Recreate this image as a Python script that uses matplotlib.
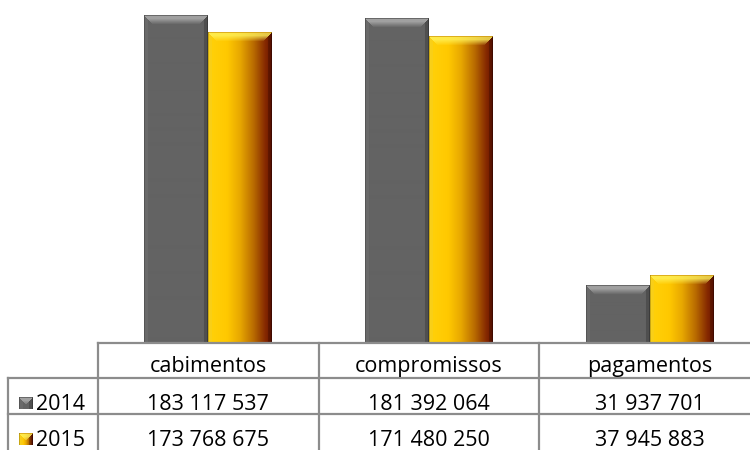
import matplotlib
matplotlib.use("Agg")
import matplotlib.pyplot as plt
import numpy as np
from matplotlib.colors import to_rgb

categorias = ["cabimentos", "compromissos", "pagamentos"]
anos = ["2014", "2015"]
v2014 = [183117537, 181392064, 31937701]
v2015 = [173768675, 171480250, 37945883]

W, H = 750, 450
fig = plt.figure(figsize=(W / 100, H / 100), dpi=100)
fig.patch.set_facecolor("white")

# plot area: left edge at 98px, bottom at 343px, runs off the right edge
left_px, bottom_px, top_px, right_px = 98, 343, 0, 760
ax = fig.add_axes([left_px / W, (H - bottom_px) / H,
                   (right_px - left_px) / W, (bottom_px - top_px) / H])
ax.set_xlim(-0.5, 2.5)
ax.set_ylim(0, 192e6)
ax.axis("off")

x = np.arange(len(categorias))
bw = 0.29
bars14 = ax.bar(x - bw / 2, v2014, bw, color="none")
bars15 = ax.bar(x + bw / 2, v2015, bw, color="none")


def gray_body(nx):
    c = np.array(to_rgb("#636363"))
    return np.tile(c, (nx, 1))


def gold_body(nx):
    stops = [0.0, 0.3, 0.5, 0.72, 0.9, 1.0]
    cols = ["#ffd20a", "#ffc800", "#e8a800", "#b86a00", "#862a00", "#6a1200"]
    cols = np.array([to_rgb(c) for c in cols])
    t = np.linspace(0, 1, nx)
    return np.stack([np.interp(t, stops, cols[:, k]) for k in range(3)], axis=1)


def bevel_image(body, h, top_light, outline):
    w = body.shape[0]
    img = np.tile(body[None, :, :], (h, 1, 1)).copy()
    d = 9
    ii, jj = np.mgrid[0:h, 0:w]
    dist_side = np.minimum(jj, w - 1 - jj)
    top = (ii < d) & (ii <= dist_side)
    # bright band just under the rim, fading into the body
    a = np.where(ii <= 3, 0.8, 0.8 * np.clip((d - ii) / (d - 3), 0, 1))[..., None]
    tl = np.array(top_light)
    img = np.where(top[..., None], img * (1 - a) + tl * a, img)
    # thin dark rim along the top edge
    img[0, :, :] = img[0, :, :] * 0.4 + np.array(outline) * 0.6
    # side bevels
    lz = (jj < 4) & (jj < ii)
    img = np.where(lz[..., None], img * 0.92 + 0.06, img)
    rz = (w - 1 - jj < 4) & (w - 1 - jj < ii)
    img = np.where(rz[..., None], img * 0.8, img)
    img[:, 0, :] *= 0.8
    img[:, -1, :] *= 0.75
    return np.clip(img, 0, 1)


fig.canvas.draw()
for bars, kind in [(bars14, "gray"), (bars15, "gold")]:
    for b in bars:
        x0, y0 = b.get_x(), 0
        x1, y1 = x0 + b.get_width(), b.get_height()
        p0 = ax.transData.transform((x0, y0))
        p1 = ax.transData.transform((x1, y1))
        nx = max(int(round(p1[0] - p0[0])), 2)
        ny = max(int(round(p1[1] - p0[1])), 2)
        if kind == "gray":
            img = bevel_image(gray_body(nx), ny, to_rgb("#b0b0b0"), to_rgb("#454545"))
        else:
            img = bevel_image(gold_body(nx), ny, to_rgb("#fff25a"), to_rgb("#c88a00"))
        ax.imshow(img, extent=(x0, x1, y0, y1), aspect="auto",
                  interpolation="bilinear", zorder=2)
ax.set_xlim(-0.5, 2.5)
ax.set_ylim(0, 192e6)

# data table under the bars
tr = ax.get_xaxis_transform()
ah = bottom_px - top_px


def yax(py):
    return (bottom_px - py) / ah


def xax(px):
    return (px - left_px) / (right_px - left_px)


lc = "#8c8c8c"
lw = 1.6
font = dict(family="Open Sans", fontsize=15.5, color="black")

ax.plot([xax(left_px), 1.2], [0, 0], transform=ax.transAxes, color=lc, lw=lw, clip_on=False)
for py in (378, 414):
    ax.plot([xax(8), 1.2], [yax(py)] * 2, transform=ax.transAxes, color=lc, lw=lw, clip_on=False)
ax.plot([xax(8)] * 2, [yax(378), yax(460)], transform=ax.transAxes, color=lc, lw=lw, clip_on=False)
for xb in (-0.5, 0.5, 1.5):
    ax.plot([xb, xb], [0, yax(460)], transform=tr, color=lc, lw=lw, clip_on=False)

# baselines of the three table rows
base_cat, base14, base15 = 372, 410, 446
for i, c in enumerate(categorias):
    ax.text(x[i], yax(base_cat), c, transform=tr, ha="center", va="baseline", **font)
    ax.text(x[i], yax(base14), f"{v2014[i]:,}".replace(",", " "), transform=tr,
            ha="center", va="baseline", **font)
    ax.text(x[i], yax(base15), f"{v2015[i]:,}".replace(",", " "), transform=tr,
            ha="center", va="baseline", **font)

# legend keys inside the table
for ano, base, kind in [(anos[0], base14, "gray"), (anos[1], base15, "gold")]:
    if kind == "gray":
        key = bevel_image(gray_body(14), 12, to_rgb("#b0b0b0"), to_rgb("#454545"))
    else:
        key = bevel_image(gold_body(14), 12, to_rgb("#fff25a"), to_rgb("#c88a00"))
    fig.figimage((key * 255).astype(np.uint8), xo=19, yo=H - base + 1, zorder=3)
    ax.text(xax(36), yax(base), ano, transform=ax.transAxes, ha="left", va="baseline",
            clip_on=False, **font)

fig.savefig("out.png", dpi=100, facecolor="white")
